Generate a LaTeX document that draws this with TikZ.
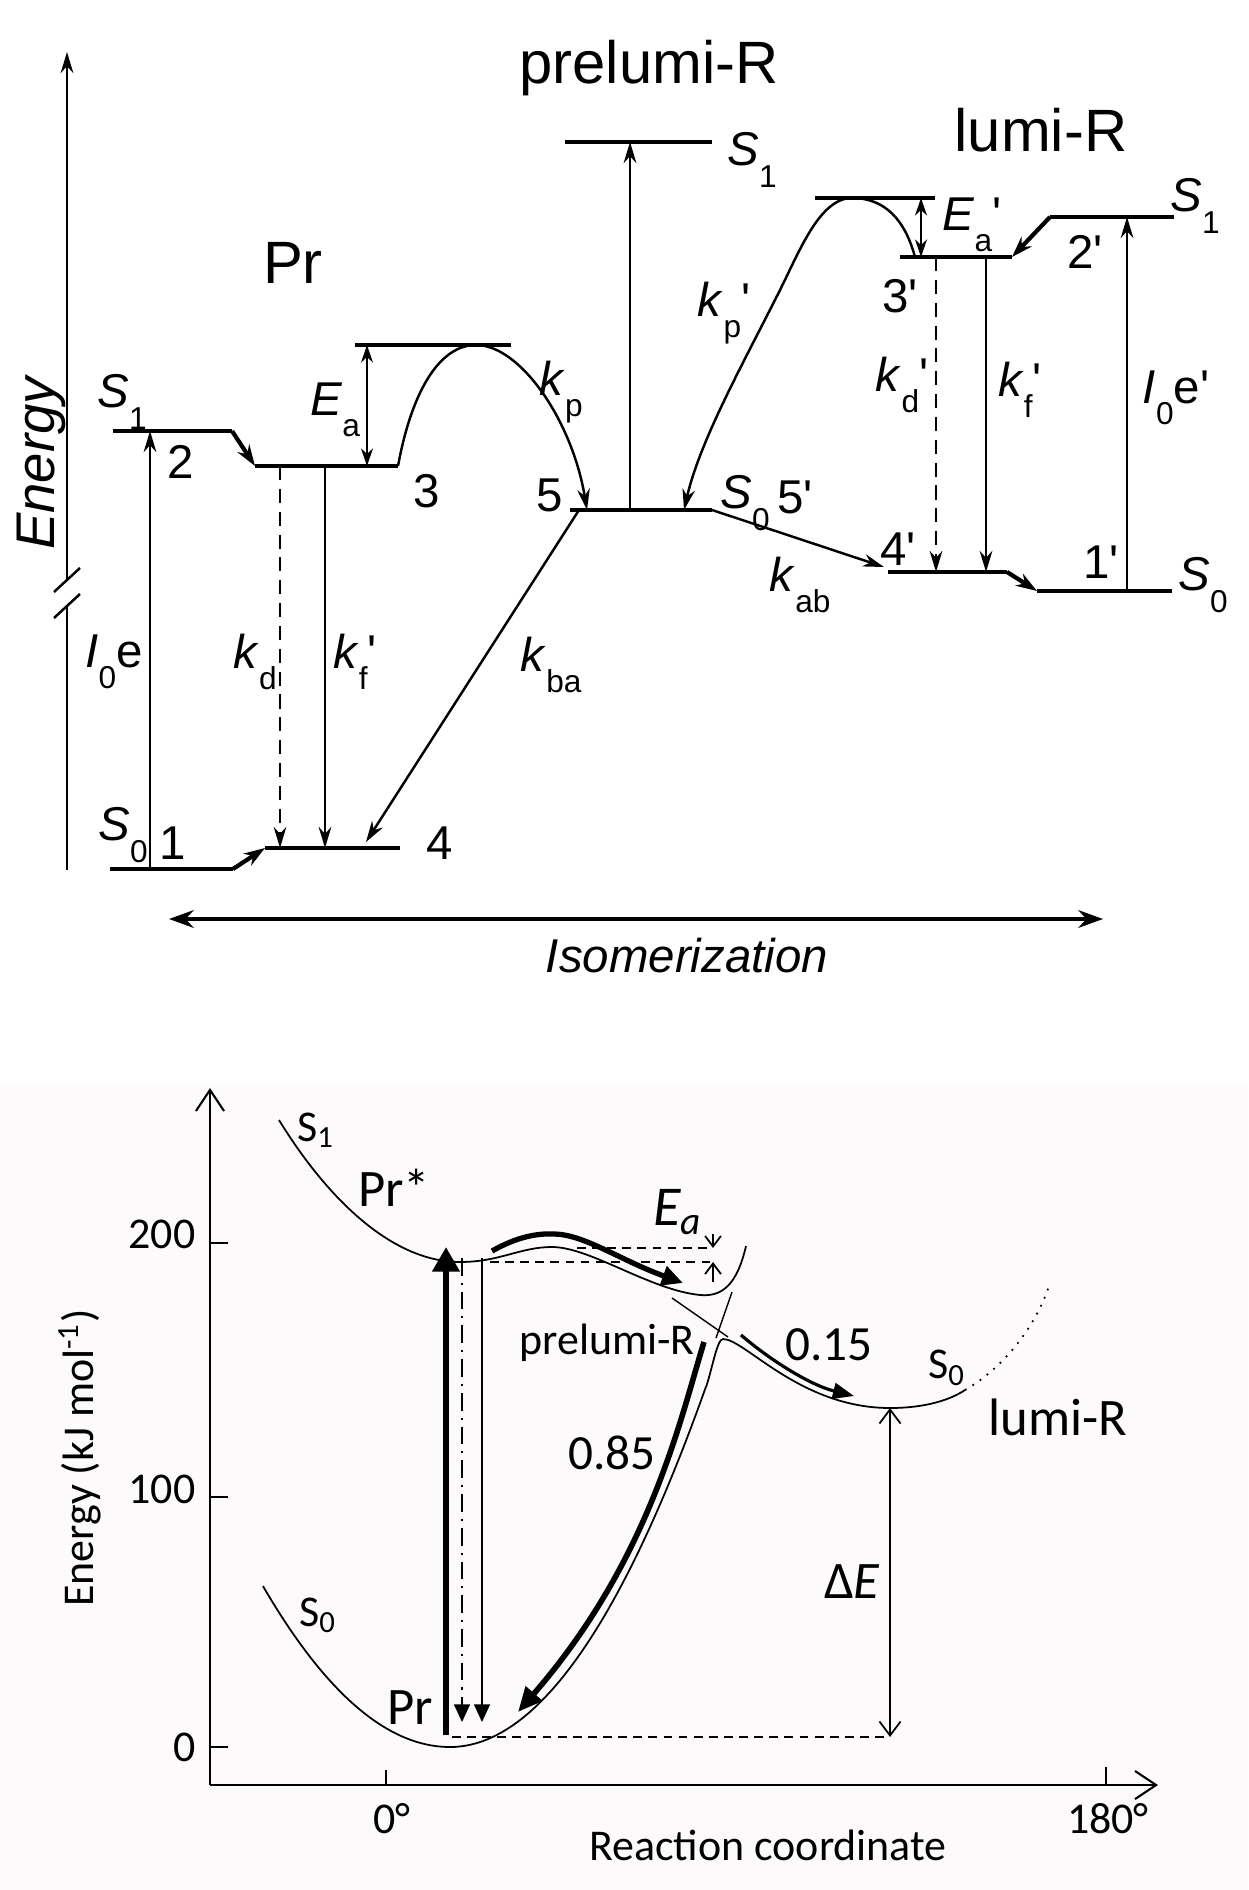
\documentclass[tikz,border=0pt]{standalone}
\usepackage{fontspec}
\setmainfont{Liberation Sans}[Ligatures=TeXOff]
\newfontfamily\calfont{Carlito}
\usepackage{xcolor}
\usepackage{tikz}
\usetikzlibrary{arrows.meta,positioning,calc}
\definecolor{panelbg}{RGB}{252,250,250}
\newcommand{\lowsub}[1]{\raisebox{-0.45em}{\fontsize{9}{10}\selectfont #1}}

\begin{document}
\begin{tikzpicture}[x=0.1mm,y=-0.1mm]
    \tikzstyle{level}=[line width=1.2pt]
    \tikzstyle{trans}=[line width=0.7pt, -{Stealth[length=6pt,width=3.6pt]}]
    \tikzstyle{lab}=[inner sep=0pt, font=\fontsize{13.5}{16}\selectfont]
    \tikzstyle{title}=[inner sep=0pt, font=\fontsize{17}{20}\selectfont]
    \tikzstyle{curve}=[line width=0.5pt]
    \tikzstyle{clab}=[inner sep=0pt, font=\calfont\fontsize{12.5}{14}\selectfont]
    \tikzstyle{cnum}=[inner sep=0pt, font=\calfont\fontsize{14}{16}\selectfont]
    \tikzstyle{cbig}=[inner sep=0pt, font=\calfont\fontsize{15}{18}\selectfont]
    \useasboundingbox (0,0) rectangle (1248,1890);
    \fill[panelbg] (0,1083) rectangle (1248,1890);

    % ---------- upper scheme ----------
    % energy axis with break
    \coordinate (eTop) at (67,52);
    \coordinate (eBrk1) at (67,580);
    \coordinate (eBrk2) at (67,606);
    \coordinate (eBot) at (67,870);
    \draw[trans] (eBrk1) -- (eTop);
    \draw[line width=0.7pt] (eBrk2) -- (eBot);
    \draw[line width=0.7pt] ($(eBrk1)+(-13,12)$) -- ($(eBrk1)+(13,-12)$);
    \draw[line width=0.7pt] ($(eBrk2)+(-13,12)$) -- ($(eBrk2)+(13,-12)$);
    \node[lab, rotate=90] (en) at (41,462) {\fontsize{15.5}{18}\selectfont\textit{Energy}};

    % Pr levels
    \coordinate (s1L) at (113,431);
    \coordinate (s1R) at (232,431);
    \coordinate (p3L) at (255,466);
    \coordinate (p3R) at (398,466);
    \coordinate (s0L) at (110,869);
    \coordinate (s0R) at (233,869);
    \coordinate (p4L) at (265,848);
    \coordinate (p4R) at (400,848);
    \coordinate (ebL) at (355,345);
    \coordinate (ebR) at (511,345);
    \coordinate (peak) at (476,345);
    \draw[level] (s1L) -- (s1R);
    \draw[level, -{Stealth[length=6pt,width=4pt]}] (s1R) -- (p3L);
    \draw[level] (p3L) -- (p3R);
    \draw[level] (s0L) -- (s0R);
    \draw[level, -{Stealth[length=6pt,width=4pt]}] (s0R) -- (p4L);
    \draw[level] (p4L) -- (p4R);
    \draw[level] (ebL) -- (ebR);

    % prelumi-R levels
    \coordinate (p5L) at (570,510);
    \coordinate (p5R) at (712,510);
    \coordinate (pS1L) at (565,142);
    \coordinate (pS1R) at (712,142);
    \draw[level] (p5L) -- (p5R);
    \draw[level] (pS1L) -- (pS1R);

    % lumi-R levels
    \coordinate (eb2L) at (815,198);
    \coordinate (eb2R) at (935,198);
    \coordinate (peak2) at (852,198);
    \coordinate (l3pL) at (900,257);
    \coordinate (l3pR) at (1012,257);
    \coordinate (lS1L) at (1050,217);
    \coordinate (lS1R) at (1174,217);
    \coordinate (l4pL) at (888,572);
    \coordinate (l4pR) at (1007,572);
    \coordinate (l1pL) at (1037,591);
    \coordinate (l1pR) at (1172,591);
    \draw[level] (eb2L) -- (eb2R);
    \draw[level] (l3pL) -- (l3pR);
    \draw[level] (lS1L) -- (lS1R);
    \draw[level, -{Stealth[length=6pt,width=4pt]}] (lS1L) -- (l3pR);
    \draw[level] (l4pL) -- (l4pR);
    \draw[level, -{Stealth[length=6pt,width=4pt]}] (l4pR) -- (l1pL);
    \draw[level] (l1pL) -- (l1pR);

    % transitions
    \draw[trans] (150,0 |- s0L) -- (150,0 |- s1L);
    \draw[trans, dash pattern=on 4pt off 2.5pt] (280,0 |- p3L) -- (280,0 |- p4L);
    \draw[trans] (325,0 |- p3L) -- (325,0 |- p4L);
    \draw[trans, {Stealth[length=5pt,width=3.4pt]}-{Stealth[length=5pt,width=3.4pt]}] (367,0 |- ebL) -- (367,0 |- p3L);
    \draw[trans] (p3R) .. controls (412,390) and (440,345) .. (peak)
        .. controls (520,345) and (572,420) .. (587,0 |- p5L);
    \draw[trans] (579,0 |- p5L) -- (366,842);
    \draw[trans] (630,0 |- p5L) -- (630,0 |- pS1L);
    \draw[trans] (915,0 |- l3pL) .. controls (905,220) and (885,198) .. (peak2)
        .. controls (820,198) and (800,250) .. (780,290)
        .. controls (745,360) and (700,440) .. (684,0 |- p5L);
    \draw[trans, {Stealth[length=5pt,width=3.4pt]}-{Stealth[length=5pt,width=3.4pt]}] (921,0 |- eb2L) -- (921,0 |- l3pL);
    \draw[trans] (1127,0 |- l1pL) -- (1127,0 |- lS1L);
    \draw[trans, dash pattern=on 4pt off 2.5pt] (936,0 |- l3pL) -- (936,0 |- l4pL);
    \draw[trans] (986,0 |- l3pL) -- (986,0 |- l4pL);
    \draw[trans] (p5R) -- (884,567);

    % isomerization axis
    \coordinate (isoL) at (169,919);
    \coordinate (isoR) at (1103,919);
    \draw[line width=1.1pt, {Stealth[length=7pt,width=5pt]}-{Stealth[length=7pt,width=5pt]}] (isoL) -- (isoR);
    \node[lab] (iso) at (687,956) {\textit{Isomerization}};

    % titles and labels
    \node[title] (prT) at (293,263) {Pr};
    \node[title] (preT) at (649,68) {prelumi-R};
    \node[title] (lumT) at (1041,130) {lumi-R};
    \node[lab] (lS1a) at (122,402) {\textit{S}\lowsub{1}};
    \node[lab] (l2) at (181,462) {2};
    \node[lab] (lEa) at (335,410) {\textit{E}\lowsub{a}};
    \node[lab] (lkp) at (561,392) {\textit{k}\lowsub{p}};
    \node[lab] (l3) at (427,491) {3};
    \node[lab] (l5) at (550,495) {5};
    \node[lab] (lI0e) at (114,662) {\textit{I}\lowsub{0}e};
    \node[lab] (lkd) at (255,662) {\textit{k}\lowsub{d}};
    \node[lab] (lkf) at (355,662) {\textit{k}\lowsub{f}'};
    \node[lab] (lkba) at (551,665) {\textit{k}\lowsub{ba}};
    \node[lab] (lS0a) at (123,835) {\textit{S}\lowsub{0}};
    \node[lab] (l1) at (173,843) {1};
    \node[lab] (l4) at (440,843) {4};
    \node[lab] (lS1b) at (752,160) {\textit{S}\lowsub{1}};
    \node[lab] (lkpp) at (724,313) {\textit{k}\lowsub{p}'};
    \node[lab] (lEap) at (972,225) {\textit{E}\lowsub{a}'};
    \node[lab] (l3p) at (900,296) {3'};
    \node[lab] (l2p) at (1085,252) {2'};
    \node[lab] (lS1c) at (1195,206) {\textit{S}\lowsub{1}};
    \node[lab] (lkdp) at (902,385) {\textit{k}\lowsub{d}'};
    \node[lab] (lkfp) at (1020,390) {\textit{k}\lowsub{f}'};
    \node[lab] (lI0ep) at (1176,398) {\textit{I}\lowsub{0}e'};
    \node[lab] (lS0b) at (745,503) {\textit{S}\lowsub{0}};
    \node[lab] (l5p) at (795,497) {5'};
    \node[lab] (lkab) at (800,585) {\textit{k}\lowsub{ab}};
    \node[lab] (l4p) at (898,549) {4'};
    \node[lab] (l1p) at (1101,562) {1'};
    \node[lab] (lS0c) at (1203,585) {\textit{S}\lowsub{0}};

    % ---------- lower plot ----------
    \coordinate (org) at (210,1785);
    \coordinate (yTop) at (210,1088);
    \coordinate (xEnd) at (1158,1785);
    \draw[line width=0.6pt, -{Straight Barb[length=6pt,width=8pt]}] (org) -- (yTop);
    \draw[line width=0.6pt, -{Straight Barb[length=6pt,width=8pt]}] (org) -- (xEnd);
    \foreach \v/\yy/\ly in {200/1243/1234, 100/1497/1489, 0/1747/1747} {
        \draw[line width=0.6pt] (210,\yy) -- (228,\yy);
        \node[clab, anchor=east] (tick\v) at (196,\ly) {\v};
    }
    \draw[line width=0.6pt] (386,1785) -- (386,1770);
    \draw[line width=0.6pt] (1106,1785) -- (1106,1767);
    \node[clab] (deg0) at (392,1819) {0°};
    \node[clab] (deg180) at (1108,1819) {180°};
    \node[clab] (bRC) at (768,1845) {Reaction coordinate};
    \node[clab, rotate=90] (bEn) at (80,1458) {Energy (kJ mol\textsuperscript{-1})};

    % S1 surface
    \draw[curve] (279,1120) .. controls (325,1195) and (390,1262) .. (460,1262)
        .. controls (500,1262) and (520,1247) .. (552,1247)
        .. controls (590,1247) and (650,1290) .. (700,1295)
        .. controls (722,1297) and (737,1285) .. (746,1246);
    \draw[line width=0.4pt] (672,1298) -- (728,1337);
    \draw[line width=0.4pt] (732,1292) -- (716,1338);
    % S0 surface
    \draw[curve] plot[domain=263:450, samples=40] (\x, {1747-46*((\x-450)/100)^2});
    \draw[curve] plot[domain=450:706, samples=50] (\x, {1747-55*((\x-450)/100)^2});
    \draw[curve] (706,1387) .. controls (712,1370) and (717,1339) .. (723,1339)
        .. controls (745,1339) and (800,1408) .. (890,1408)
        .. controls (925,1408) and (950,1400) .. (965,1390);
    \draw[curve, dotted] (965,1390) .. controls (1000,1370) and (1035,1330) .. (1050,1283);

    % barrier on S1
    \coordinate (humpTop) at (577,1248);
    \coordinate (s1Min) at (490,1262);
    \coordinate (eaHi) at (713,1248);
    \coordinate (eaLo) at (713,1262);
    \draw[line width=0.5pt, dash pattern=on 2.5pt off 1.8pt] (humpTop) -- (eaHi);
    \draw[line width=0.5pt, dash pattern=on 2.5pt off 1.8pt] (s1Min) -- (eaLo);
    \draw[line width=0.5pt, -{Straight Barb[length=3pt,width=4.5pt]}] (713,1234) -- (eaHi);
    \draw[line width=0.5pt, -{Straight Barb[length=3pt,width=4.5pt]}] (713,1282) -- (eaLo);
    \draw[line width=1.5pt, -{Triangle[length=6pt,width=5.5pt]}] (492,1251)
        .. controls (515,1238) and (535,1233) .. (555,1234)
        .. controls (585,1235) and (620,1260) .. (683,1283);

    % vertical transitions
    \coordinate (exBot) at (446,1735);
    \coordinate (exTop) at (446,1247);
    \coordinate (fl1Top) at (462,1258);
    \coordinate (fl1Bot) at (462,1722);
    \coordinate (fl2Top) at (482,1258);
    \coordinate (fl2Bot) at (482,1722);
    \draw[line width=1.9pt, -{Triangle[length=7pt,width=7.5pt]}] (exBot) -- (exTop);
    \draw[line width=0.5pt, dash pattern=on 5pt off 2pt on 0.6pt off 2pt, -{Triangle[length=5pt,width=4.5pt]}] (fl1Top) -- (fl1Bot);
    \draw[line width=0.5pt, -{Triangle[length=5pt,width=4.5pt]}] (fl2Top) -- (fl2Bot);

    % branching from the crossing
    \coordinate (xing) at (704,1342);
    \coordinate (prWell) at (518,1712);
    \coordinate (lumStart) at (741,1335);
    \coordinate (lumEnd) at (854,1396);
    \draw[line width=1.6pt, -{Triangle[length=7pt,width=6pt]}] (xing) .. controls (680,1420) and (650,1560) .. (prWell);
    \draw[line width=0.9pt, -{Triangle[length=6pt,width=4.5pt]}] (lumStart) .. controls (770,1360) and (810,1385) .. (lumEnd);

    % energy gap
    \coordinate (lumMin) at (890,1408);
    \coordinate (zeroL) at (452,1737);
    \coordinate (zeroR) at (890,1737);
    \draw[line width=0.5pt, dash pattern=on 2.5pt off 1.8pt] (zeroL) -- (zeroR);
    \draw[line width=0.5pt, {Straight Barb[length=4pt,width=6pt]}-{Straight Barb[length=4pt,width=6pt]}] (lumMin) -- (zeroR);

    % labels
    \node[clab] (bS1) at (316,1130) {S\textsubscript{1}};
    \node[cbig] (prStar) at (394,1188) {Pr*};
    \node[clab] (bpre) at (607,1343) {prelumi-R};
    \node[inner sep=0pt, font=\calfont\fontsize{16}{18}\selectfont] (bEa) at (678,1212) {\textit{E}\textsubscript{\textit{a}}};
    \node[cnum] (b085) at (612,1453) {0.85};
    \node[cnum] (b015) at (829,1345) {0.15};
    \node[clab] (bS0r) at (947,1368) {S\textsubscript{0}};
    \node[cbig] (blum) at (1058,1417) {lumi-R};
    \node[clab] (bS0l) at (318,1615) {S\textsubscript{0}};
    \node[cbig] (bPr) at (410,1708) {Pr};
    \node[cbig] (bdE) at (852,1582) {Δ\textit{E}};
\end{tikzpicture}
\end{document}
